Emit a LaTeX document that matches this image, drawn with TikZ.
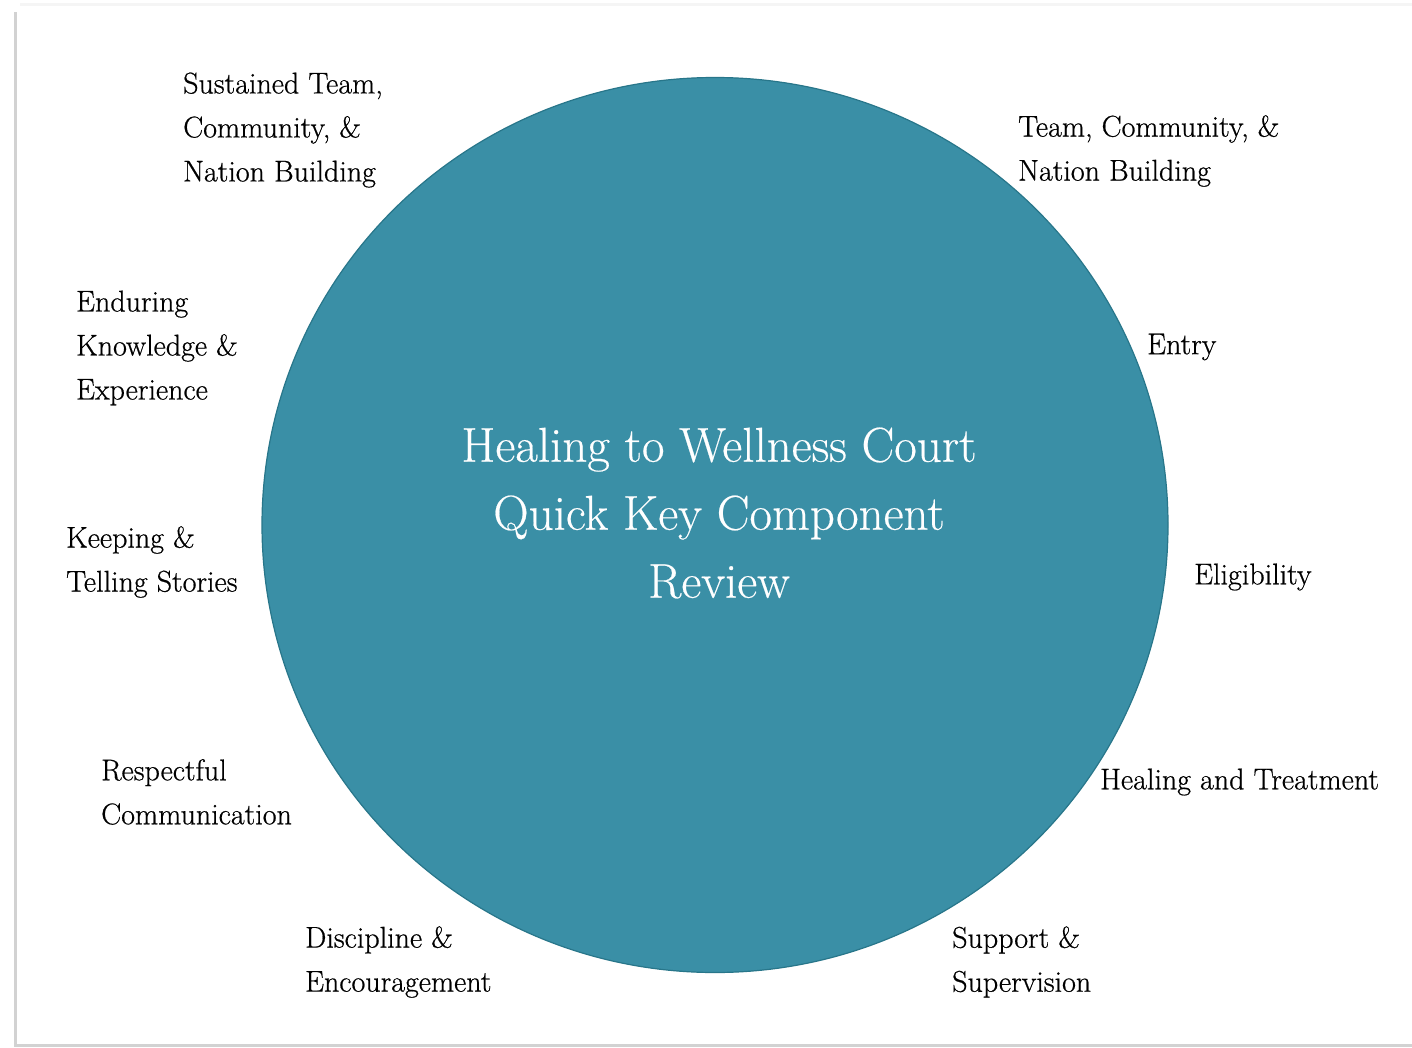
\documentclass[tikz,border=0pt]{standalone}
\usepackage{fontspec}
\setmainfont{Latin Modern Roman}[FakeBold=0.6]
\newfontfamily\titlefont{Latin Modern Roman}[FakeBold=0.4]
\usetikzlibrary{shapes.geometric}
\definecolor{teal1}{RGB}{58,143,166}
\definecolor{teal2}{RGB}{40,118,138}
\begin{document}
\begin{tikzpicture}[x=1pt,y=-1pt,
  lbl/.style={anchor=west,align=left,inner sep=0pt,font=\fontsize{30}{44}\selectfont,text=black},
  ttl/.style={align=center,inner sep=0pt,font=\titlefont\fontsize{49}{68}\selectfont,text=white}]
\useasboundingbox (0,0) rectangle (1412,1048);
% frame with shadow
\fill[gray!8] (20,3) rectangle (1412,6);
\fill[gray!35] (14,12) rectangle (17,1047);
\fill[gray!35] (14,1044) rectangle (1412,1047);
% circle
\node[draw=teal2,fill=teal1,line width=1.2pt,ellipse,minimum width=906,minimum height=895,inner sep=0pt] (c) at (715,525) {};
\node[ttl] (t) at (719,513) {Healing to Wellness Court\\Quick Key Component\\Review};
% labels
\node[lbl] (l1) at (183,130) {Sustained Team,\\Community, \&\\Nation Building};
\node[lbl] (r1) at (1018,151) {Team, Community, \&\\Nation Building};
\node[lbl] (l2) at (76,348) {Enduring\\Knowledge \&\\Experience};
\node[lbl] (r2) at (1147,347) {Entry};
\node[lbl] (l3) at (66,562) {Keeping \&\\Telling Stories};
\node[lbl] (r3) at (1194,577) {Eligibility};
\node[lbl] (l4) at (101,792) {Respectful\\Communication};
\node[lbl] (r4) at (1100,782) {Healing and Treatment};
\node[lbl] (l5) at (305,962) {Discipline \&\\Encouragement};
\node[lbl] (r5) at (952,962) {Support \&\\Supervision};
\end{tikzpicture}
\end{document}
